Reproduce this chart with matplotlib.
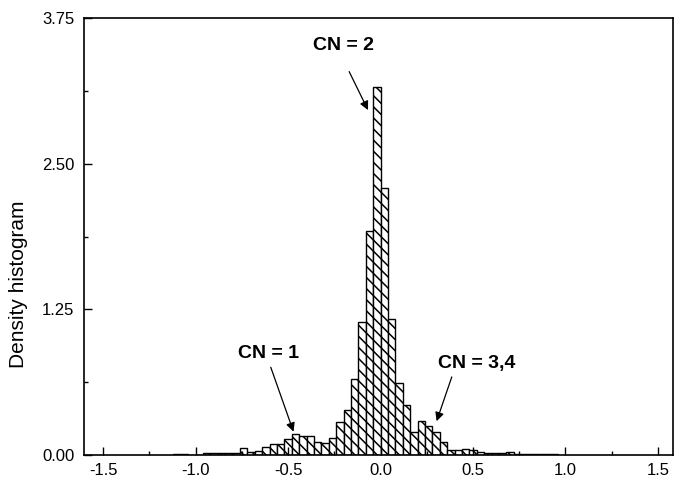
import matplotlib
matplotlib.use("Agg")
import matplotlib.pyplot as plt
import numpy as np

plt.rcParams['font.family'] = ['Liberation Sans', 'DejaVu Sans']
plt.rcParams['hatch.linewidth'] = 1.1

# histogram: bins of width 0.04 starting at -1.12
bin_start = -1.12
bin_width = 0.04
density = [0.006, 0.006, 0.0, 0.0,
           0.015, 0.015, 0.015, 0.015, 0.015,
           0.057, 0.03, 0.038, 0.066, 0.097, 0.097, 0.135, 0.18,
           0.16, 0.16, 0.114, 0.104, 0.143, 0.28, 0.39, 0.655,
           1.139, 1.925, 3.16,
           2.29, 1.167, 0.615, 0.43, 0.2, 0.292, 0.249, 0.2,
           0.108, 0.046, 0.04, 0.055, 0.045, 0.03, 0.02, 0.02,
           0.02, 0.03, 0.012, 0.006, 0.006, 0.006, 0.006, 0.006]
edges = bin_start + bin_width * np.arange(len(density))

x_ticks = [-1.5, -1.0, -0.5, 0.0, 0.5, 1.0, 1.5]
y_ticks = [0.0, 1.25, 2.50, 3.75]

# annotations: label, text position, arrow start, arrow end
notes = [("CN = 2", (-0.20, 3.51), (-0.17, 3.29), (-0.068, 2.96)),
         ("CN = 1", (-0.605, 0.87), (-0.594, 0.753), (-0.471, 0.20)),
         ("CN = 3,4", (0.52, 0.787), (0.385, 0.67), (0.303, 0.29))]

fig = plt.figure(figsize=(6.85, 4.88), dpi=100)
ax = fig.add_axes([84/685, 1-455/488, (673.3-84)/685, (455-18)/488])

ax.bar(edges, density, width=bin_width, align='edge', color='white',
       edgecolor='black', linewidth=1.0, hatch='\\\\\\')

for label, txt, start, end in notes:
    ax.text(txt[0], txt[1], label, ha='center', va='center',
            fontsize=14, fontweight='bold')
    ax.annotate('', xy=end, xytext=start,
                arrowprops=dict(arrowstyle='-|>', color='black', lw=0.9,
                                mutation_scale=13, shrinkA=0, shrinkB=0))

ax.set_xlim(-1.604, 1.583)
ax.set_ylim(0, 3.75)
ax.set_xticks(x_ticks)
ax.set_xticklabels(['%.1f' % v for v in x_ticks])
ax.set_yticks(y_ticks)
ax.set_yticklabels(['%.2f' % v for v in y_ticks])
ax.set_xticks(np.array(x_ticks[:-1]) + 0.25, minor=True)
ax.set_yticks(np.array(y_ticks[:-1]) + 0.625, minor=True)
ax.tick_params(which='both', direction='in', top=False, right=False,
               labelsize=12, width=1)
ax.tick_params(axis='x', which='major', length=6, pad=6)
ax.tick_params(axis='y', which='major', length=6, pad=7)
ax.tick_params(which='minor', length=3)
for s in ax.spines.values():
    s.set_linewidth(1.2)

ax.set_ylabel('Density histogram', fontsize=15)
ax.yaxis.set_label_coords(-0.095, 0.39)

fig.savefig('out.png', dpi=100)
